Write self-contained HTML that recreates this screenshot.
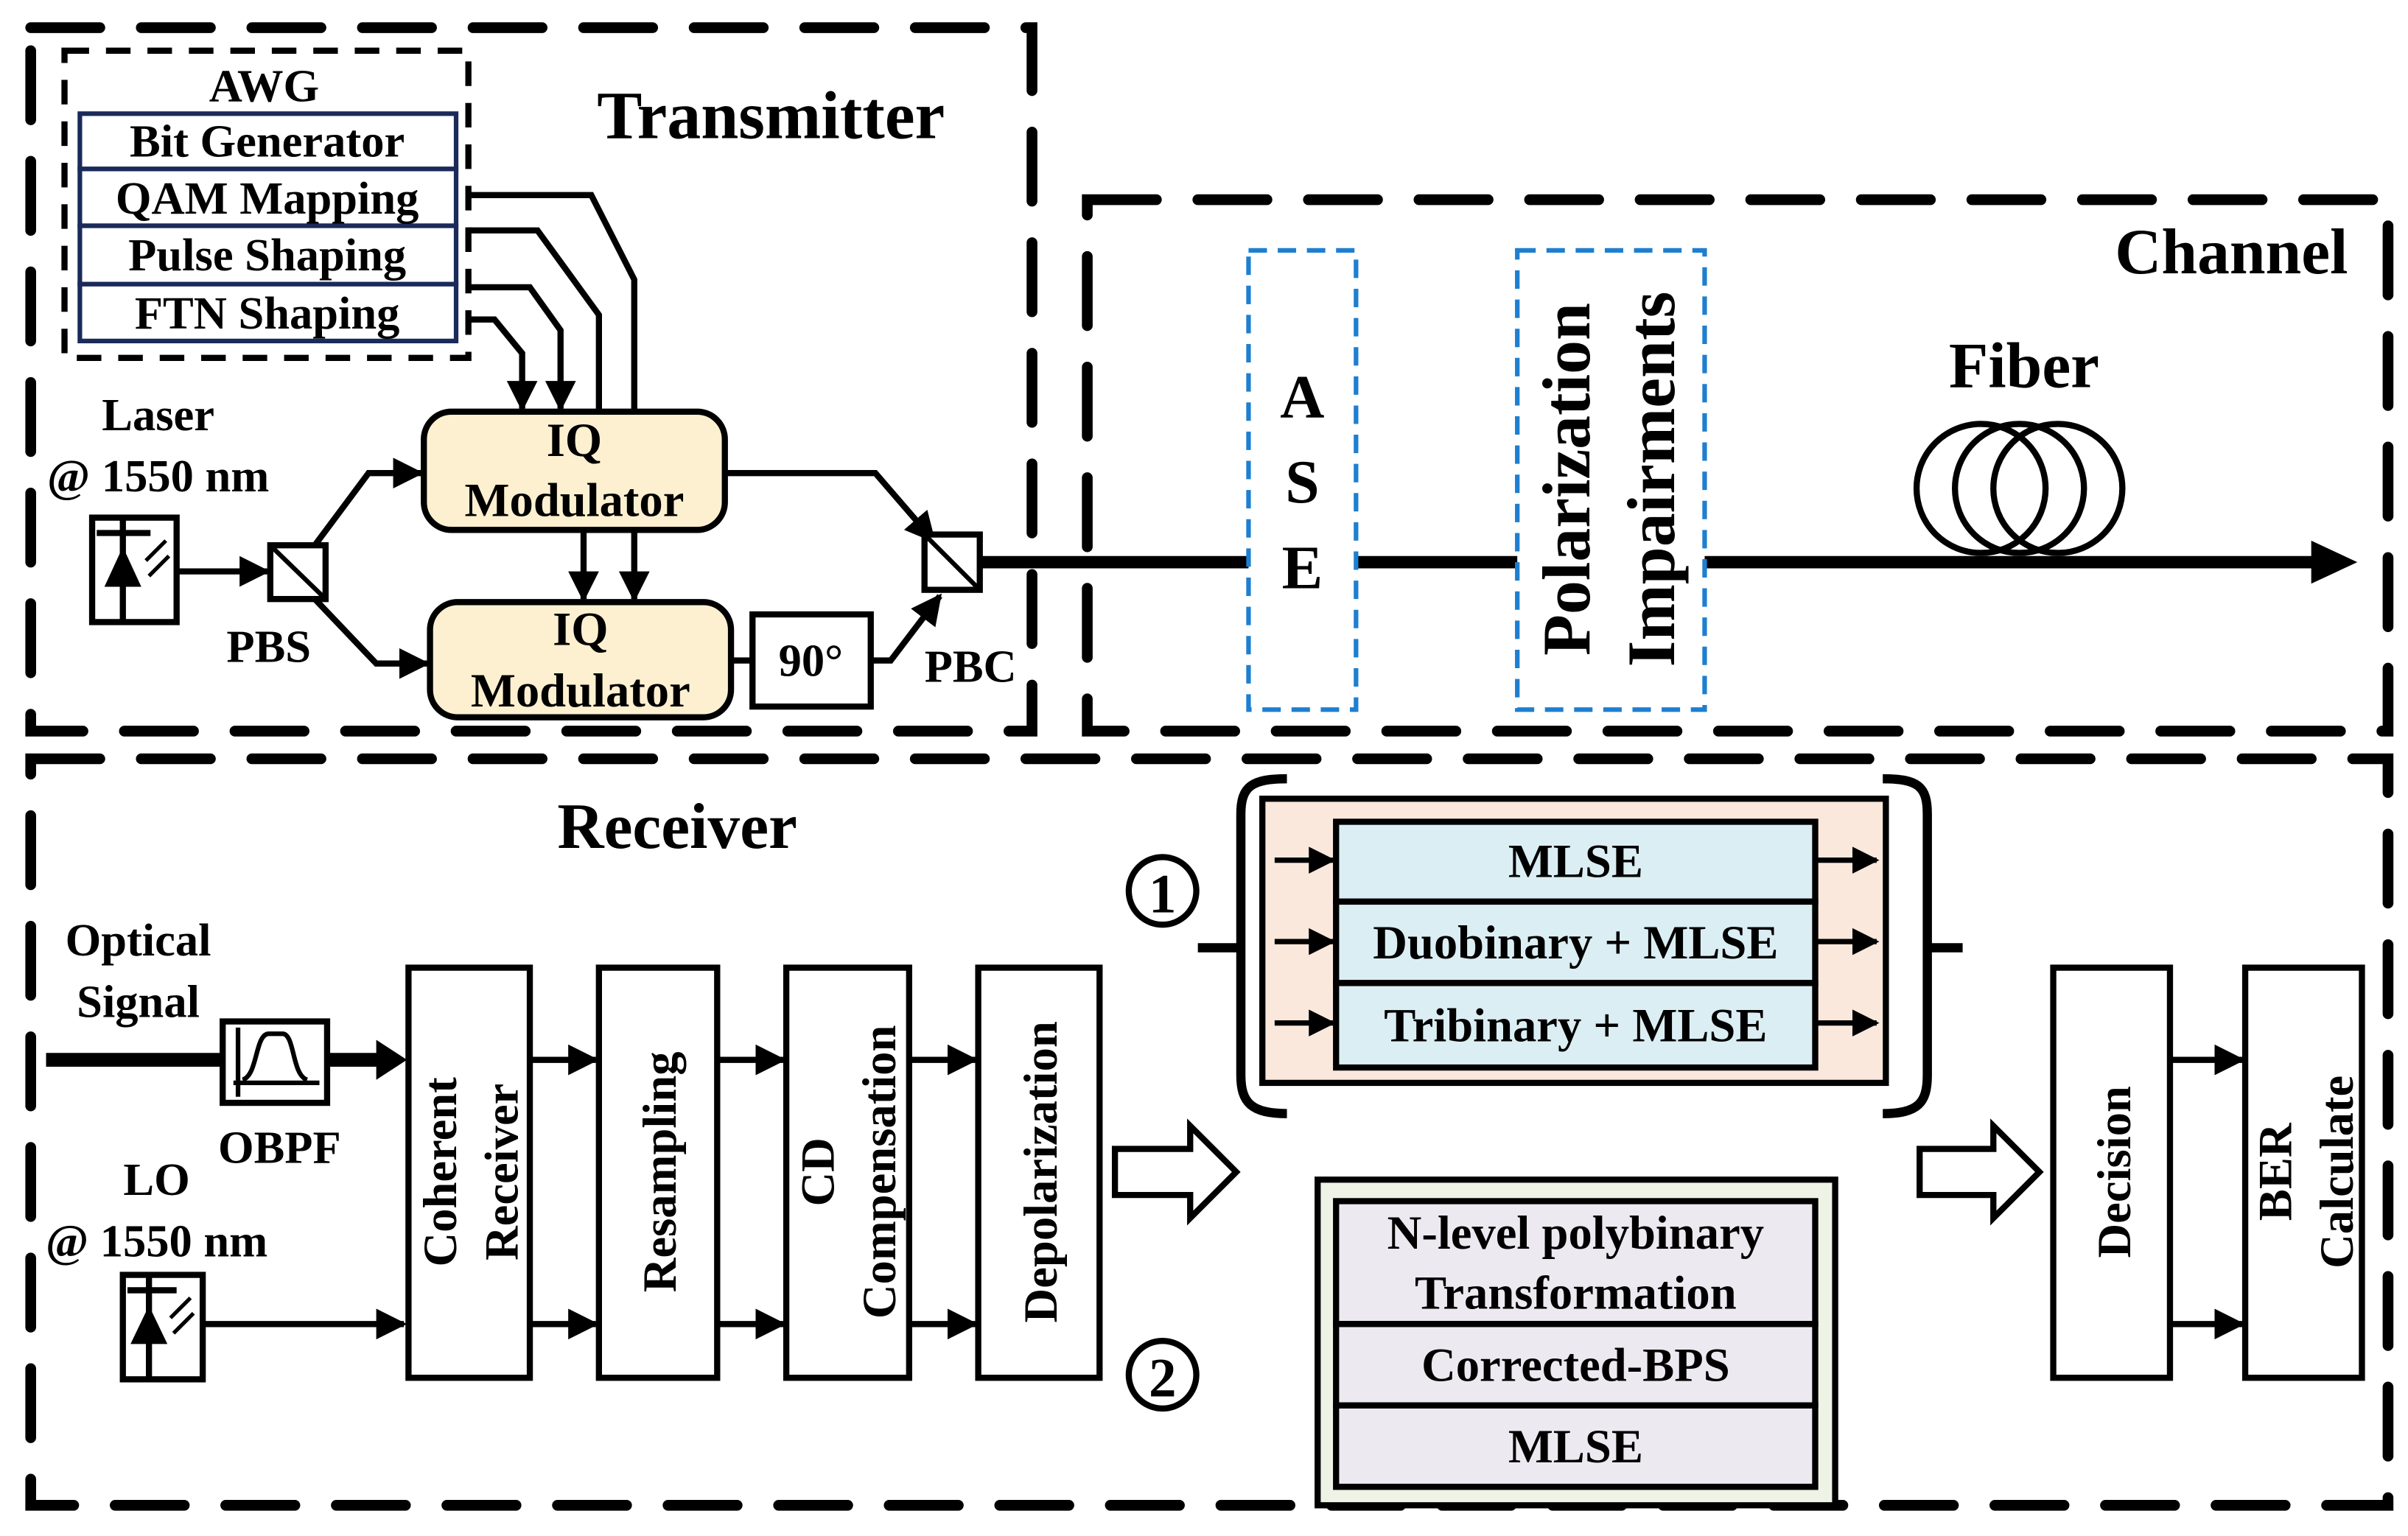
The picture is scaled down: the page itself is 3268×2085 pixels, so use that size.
<!DOCTYPE html>
<html><head><meta charset="utf-8"><style>
html,body{margin:0;padding:0;background:#fff;}
svg{display:block;}
text{font-family:"Liberation Serif",serif;font-weight:bold;fill:#000;}
</style></head><body>
<svg width="3268" height="2085" viewBox="0 0 1568 1000" preserveAspectRatio="none" xmlns="http://www.w3.org/2000/svg">
<defs>
<marker id="ah" viewBox="0 0 10 10" refX="9" refY="5" markerWidth="5" markerHeight="5" orient="auto" markerUnits="strokeWidth"><path d="M0,0 L10,5 L0,10 z" fill="#000"/></marker>
</defs>
<rect width="1568" height="1000" fill="#fff"/>
<g fill="none" stroke="#000" stroke-width="7" stroke-dasharray="45,27" stroke-linecap="round">
<rect x="20" y="18" width="652" height="458"/>
<rect x="708" y="130" width="847" height="346"/>
<rect x="20" y="494" width="1535" height="486"/>
</g>
<rect x="42" y="33" width="263" height="200" fill="none" stroke="#000" stroke-width="4" stroke-dasharray="16,11"/>
<text x="172" y="66" font-size="30" text-anchor="middle">AWG</text>
<g fill="#fff" stroke="#1a2a5a" stroke-width="3">
<rect x="52" y="74" width="245" height="36"/><rect x="52" y="110" width="245" height="37"/>
<rect x="52" y="147" width="245" height="38"/><rect x="52" y="185" width="245" height="37"/>
</g>
<g font-size="30" text-anchor="middle">
<text x="174" y="102">Bit Generator</text><text x="174" y="139">QAM Mapping</text>
<text x="174" y="176">Pulse Shaping</text><text x="174" y="214">FTN Shaping</text>
</g>
<text x="502" y="90" font-size="44" text-anchor="middle">Transmitter</text>
<g fill="none" stroke="#000" stroke-width="4">
<polyline points="305,127 385,127 413,182 413,268"/>
<polyline points="305,150 350,150 390,205 390,268"/>
<polyline points="305,187 345,187 365,215 365,266" marker-end="url(#ah)"/>
<polyline points="305,208 322,208 340,230 340,266" marker-end="url(#ah)"/>
<line x1="380" y1="345" x2="380" y2="390" marker-end="url(#ah)"/>
<line x1="413" y1="345" x2="413" y2="390" marker-end="url(#ah)"/>
</g>
<rect x="276" y="268" width="196" height="77" rx="18" fill="#fdf0d0" stroke="#000" stroke-width="4"/>
<rect x="280" y="392" width="196" height="75" rx="18" fill="#fdf0d0" stroke="#000" stroke-width="4"/>
<g font-size="31" text-anchor="middle">
<text x="374" y="297">IQ</text><text x="374" y="336">Modulator</text>
<text x="378" y="420">IQ</text><text x="378" y="460">Modulator</text>
</g>
<g stroke="#000" stroke-width="4" fill="none">
<rect x="60" y="337" width="55" height="68" fill="#fff"/>
<line x1="80" y1="337" x2="80" y2="405"/><line x1="63" y1="347" x2="98" y2="347"/>
</g>
<path d="M68,382 L80,356 L92,382 z" fill="#000"/>
<g stroke="#000" stroke-width="2.5"><line x1="95" y1="365" x2="108" y2="352"/><line x1="97" y1="375" x2="110" y2="362"/></g>
<g font-size="30" text-anchor="middle"><text x="103" y="280">Laser</text><text x="103" y="320">@ 1550 nm</text></g>
<g fill="none" stroke="#000" stroke-width="4">
<line x1="115" y1="372" x2="174" y2="372" marker-end="url(#ah)"/>
<polyline points="205,355 240,308 274,308" marker-end="url(#ah)"/>
<polyline points="205,390 245,432 278,432" marker-end="url(#ah)"/>
<polyline points="472,308 570,308 608,352" marker-end="url(#ah)"/>
<line x1="476" y1="430" x2="490" y2="430"/>
<polyline points="567,430 580,430 612,388" marker-end="url(#ah)"/>
</g>
<rect x="176" y="355" width="36" height="35" fill="#fff" stroke="#000" stroke-width="4"/>
<line x1="178" y1="357" x2="210" y2="388" stroke="#000" stroke-width="3"/>
<text x="175" y="431" font-size="30" text-anchor="middle">PBS</text>
<rect x="490" y="400" width="77" height="60" fill="#fff" stroke="#000" stroke-width="4"/>
<text x="528" y="440" font-size="30" text-anchor="middle">90°</text>
<rect x="602" y="348" width="36" height="36" fill="#fff" stroke="#000" stroke-width="4"/>
<line x1="604" y1="350" x2="636" y2="382" stroke="#000" stroke-width="3"/>
<text x="632" y="444" font-size="30" text-anchor="middle">PBC</text>
<line x1="638" y1="366" x2="1512" y2="366" stroke="#000" stroke-width="8"/>
<path d="M1505,352 L1535,366 L1505,380 z" fill="#000"/>
<g fill="#fff" stroke="#1e7fd0" stroke-width="3" stroke-dasharray="12,7">
<rect x="813" y="163" width="70" height="299"/>
<rect x="988" y="163" width="122" height="299"/>
</g>
<g font-size="40" text-anchor="middle"><text x="848" y="272">A</text><text x="848" y="327">S</text><text x="848" y="383">E</text></g>
<text transform="translate(1035,312) rotate(-90)" font-size="44" text-anchor="middle">Polarization</text>
<text transform="translate(1090,312) rotate(-90)" font-size="44" text-anchor="middle">Impairments</text>
<text x="1453" y="178" font-size="42" text-anchor="middle">Channel</text>
<text x="1318" y="252" font-size="42" text-anchor="middle">Fiber</text>
<g fill="none" stroke="#000" stroke-width="4">
<circle cx="1290" cy="318" r="42"/><circle cx="1315" cy="318" r="42"/><circle cx="1340" cy="318" r="42"/>
</g>
<text x="441" y="552" font-size="42" text-anchor="middle">Receiver</text>
<g font-size="30" text-anchor="middle">
<text x="90" y="622">Optical</text><text x="90" y="662">Signal</text>
<text x="182" y="757">OBPF</text>
<text x="102" y="778">LO</text><text x="102" y="818">@ 1550 nm</text>
</g>
<line x1="30" y1="690" x2="145" y2="690" stroke="#000" stroke-width="9"/>
<line x1="213" y1="690" x2="248" y2="690" stroke="#000" stroke-width="9"/>
<path d="M245,677 L265,690 L245,703 z" fill="#000"/>
<rect x="145" y="665" width="68" height="53" fill="#fff" stroke="#000" stroke-width="4"/>
<g fill="none" stroke="#000" stroke-width="3"><line x1="155" y1="669" x2="155" y2="714"/><line x1="152" y1="705" x2="208" y2="705"/>
<path d="M158,703 C168,700 166,673 175,673 L184,673 C192,673 190,700 200,703"/></g>
<g stroke="#000" stroke-width="4" fill="none">
<rect x="80" y="830" width="52" height="68" fill="#fff"/>
<line x1="97" y1="830" x2="97" y2="898"/><line x1="83" y1="840" x2="115" y2="840"/>
<line x1="132" y1="862" x2="263" y2="862" marker-end="url(#ah)"/>
</g>
<path d="M85,875 L97,850 L109,875 z" fill="#000"/>
<g stroke="#000" stroke-width="2.5"><line x1="111" y1="858" x2="124" y2="845"/><line x1="113" y1="868" x2="126" y2="855"/></g>
<g fill="#fff" stroke="#000" stroke-width="4">
<rect x="266" y="630" width="79" height="267"/><rect x="390" y="630" width="77" height="267"/>
<rect x="512" y="630" width="80" height="267"/><rect x="637" y="630" width="79" height="267"/>
<rect x="1337" y="630" width="76" height="267"/><rect x="1462" y="630" width="76" height="267"/>
</g>
<g font-size="31" text-anchor="middle">
<text transform="translate(297,763) rotate(-90)">Coherent</text>
<text transform="translate(337,763) rotate(-90)">Receiver</text>
<text transform="translate(440,763) rotate(-90)">Resampling</text>
<text transform="translate(543,763) rotate(-90)">CD</text>
<text transform="translate(583,763) rotate(-90)">Compensation</text>
<text transform="translate(688,763) rotate(-90)">Depolarization</text>
<text transform="translate(1387,763) rotate(-90)">Decision</text>
<text transform="translate(1492,763) rotate(-90)">BER</text>
<text transform="translate(1532,763) rotate(-90)">Calculate</text>
</g>
<g stroke="#000" stroke-width="4" fill="none">
<line x1="345" y1="690" x2="388" y2="690" marker-end="url(#ah)"/><line x1="345" y1="862" x2="388" y2="862" marker-end="url(#ah)"/>
<line x1="467" y1="690" x2="510" y2="690" marker-end="url(#ah)"/><line x1="467" y1="862" x2="510" y2="862" marker-end="url(#ah)"/>
<line x1="592" y1="690" x2="635" y2="690" marker-end="url(#ah)"/><line x1="592" y1="862" x2="635" y2="862" marker-end="url(#ah)"/>
<line x1="1413" y1="690" x2="1460" y2="690" marker-end="url(#ah)"/><line x1="1413" y1="862" x2="1460" y2="862" marker-end="url(#ah)"/>
</g>
<g fill="#fff" stroke="#000" stroke-width="4">
<path d="M726,748 L775,748 L775,733 L805,763 L775,793 L775,778 L726,778 z"/>
<path d="M1250,748 L1298,748 L1298,733 L1328,763 L1298,793 L1298,778 L1250,778 z"/>
</g>
<g fill="none" stroke="#000" stroke-width="6">
<path d="M838,507 C815,507 808,512 808,530 L808,700 C808,718 815,725 838,725"/>
<path d="M1226,507 C1249,507 1255,512 1255,530 L1255,700 C1255,718 1249,725 1226,725"/>
<line x1="780" y1="617" x2="808" y2="617"/><line x1="1255" y1="617" x2="1278" y2="617"/>
</g>
<rect x="822" y="520" width="406" height="185" fill="#fae8dc" stroke="#000" stroke-width="4"/>
<g fill="#dbeef3" stroke="#000" stroke-width="4">
<rect x="870" y="535" width="312" height="52"/><rect x="870" y="587" width="312" height="53"/><rect x="870" y="640" width="312" height="55"/>
</g>
<g font-size="31" text-anchor="middle">
<text x="1026" y="571">MLSE</text><text x="1026" y="624">Duobinary + MLSE</text><text x="1026" y="678">Tribinary + MLSE</text>
</g>
<g stroke="#000" stroke-width="3.5" fill="none">
<line x1="830" y1="560" x2="868" y2="560" marker-end="url(#ah)"/><line x1="830" y1="613" x2="868" y2="613" marker-end="url(#ah)"/><line x1="830" y1="666" x2="868" y2="666" marker-end="url(#ah)"/>
<line x1="1182" y1="560" x2="1222" y2="560" marker-end="url(#ah)"/><line x1="1182" y1="613" x2="1222" y2="613" marker-end="url(#ah)"/><line x1="1182" y1="666" x2="1222" y2="666" marker-end="url(#ah)"/>
</g>
<circle cx="757" cy="580" r="22" fill="#fff" stroke="#000" stroke-width="4"/>
<text x="757" y="594" font-size="36" text-anchor="middle">1</text>
<circle cx="757" cy="895" r="22" fill="#fff" stroke="#000" stroke-width="4"/>
<text x="757" y="909" font-size="36" text-anchor="middle">2</text>
<rect x="858" y="768" width="337" height="212" fill="#eef3e6" stroke="#000" stroke-width="4"/>
<g fill="#ece9f1" stroke="#000" stroke-width="4">
<rect x="870" y="782" width="312" height="80"/><rect x="870" y="862" width="312" height="53"/><rect x="870" y="915" width="312" height="53"/>
</g>
<g font-size="31" text-anchor="middle">
<text x="1026" y="813">N-level polybinary</text><text x="1026" y="852">Transformation</text>
<text x="1026" y="899">Corrected-BPS</text><text x="1026" y="952">MLSE</text>
</g>
</svg>
</body></html>
